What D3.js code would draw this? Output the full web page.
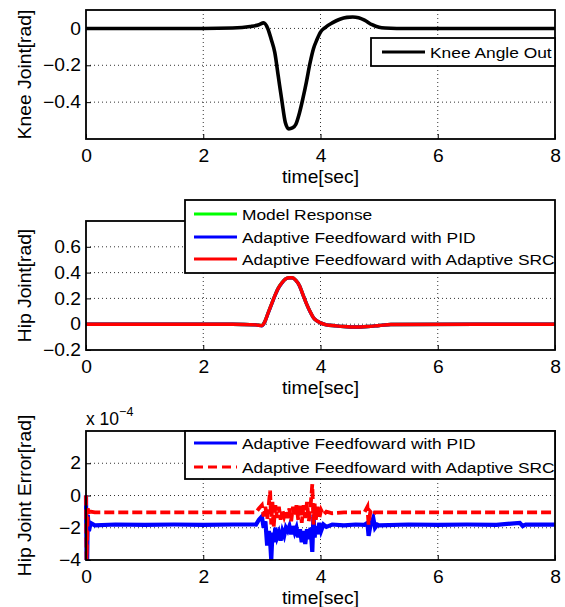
<!DOCTYPE html>
<html><head><meta charset="utf-8">
<script src="https://cdn.jsdelivr.net/npm/d3@7/dist/d3.min.js"></script>
<style>body{margin:0;background:#fff}svg{display:block}text{font-family:"Liberation Sans",Arial,Helvetica,sans-serif;fill:#000}</style>
</head><body><svg id="c" width="565" height="607"></svg>
<script>
// ---- data ----
const xTicks = [0, 2, 4, 6, 8];
const kneeTicks = [-0.4, -0.2, 0];
const hipTicks = [-0.2, 0, 0.2, 0.4, 0.6];
const errTicks = [-4, -2, 0, 2];

const kneeT = [0, 2.0, 2.5, 2.8, 2.95, 3.03, 3.1, 3.16, 3.22, 3.28, 3.34, 3.4, 3.46, 3.52, 3.58, 3.64, 3.7, 3.76, 3.82, 3.88, 3.94, 4.0, 4.08, 4.2, 4.33, 4.45, 4.55, 4.65, 4.75, 4.88, 5.0, 5.1, 5.3, 8.0];
const kneeV = [0, 0, 0.002, 0.01, 0.02, 0.03, 0.0, -0.06, -0.13, -0.26, -0.39, -0.51, -0.545, -0.54, -0.52, -0.46, -0.38, -0.29, -0.19, -0.11, -0.06, -0.02, 0.005, 0.03, 0.05, 0.06, 0.062, 0.058, 0.045, 0.02, 0.006, 0.002, 0, 0];

const hipT = [0, 2.5, 2.9, 3.0, 3.05, 3.1, 3.16, 3.22, 3.28, 3.34, 3.4, 3.46, 3.52, 3.58, 3.64, 3.7, 3.76, 3.82, 3.88, 3.94, 4.0, 4.1, 4.25, 4.4, 4.6, 4.8, 5.0, 5.2, 8.0];
const hipModel = [0, 0, -0.005, -0.01, 0.02, 0.08, 0.15, 0.22, 0.28, 0.32, 0.35, 0.36, 0.36, 0.34, 0.3, 0.23, 0.16, 0.1, 0.05, 0.025, 0.01, -0.005, -0.012, -0.018, -0.022, -0.018, -0.01, -0.002, 0];
const hipPID = [0, 0, -0.005, -0.012, 0.018, 0.078, 0.148, 0.218, 0.278, 0.318, 0.349, 0.359, 0.359, 0.339, 0.299, 0.229, 0.159, 0.099, 0.05, 0.025, 0.01, -0.005, -0.012, -0.018, -0.022, -0.018, -0.01, -0.002, 0];
const hipSRC = [0, 0, -0.005, -0.011, 0.019, 0.079, 0.149, 0.219, 0.279, 0.319, 0.35, 0.36, 0.36, 0.34, 0.3, 0.23, 0.16, 0.1, 0.05, 0.025, 0.01, -0.005, -0.012, -0.018, -0.022, -0.018, -0.01, -0.002, 0];

const errT = [0, 0.01, 0.02, 0.03, 0.05, 0.08, 0.15, 0.5, 1.0, 1.5, 2.0, 2.5, 2.9, 2.95, 3.0, 3.03, 3.06, 3.09, 3.12, 3.14, 3.16, 3.18, 3.2, 3.23, 3.26, 3.29, 3.32, 3.35, 3.38, 3.41, 3.44, 3.47, 3.5, 3.53, 3.56, 3.59, 3.62, 3.65, 3.68, 3.71, 3.74, 3.77, 3.8, 3.83, 3.86, 3.88, 3.9, 3.92, 3.95, 3.98, 4.01, 4.05, 4.1, 4.2, 4.4, 4.6, 4.75, 4.8, 4.82, 4.85, 4.9, 4.93, 4.97, 5.0, 5.5, 6.0, 6.5, 7.0, 7.4, 7.45, 7.5, 8.0];
const errPID = [0, -4, -3.9, -1.2, -2.2, -1.7, -1.85, -1.8, -1.82, -1.8, -1.82, -1.8, -1.8, -1.5, -1.3, -2.0, -1.6, -3.1, -2.2, -2.8, -4.0, -2.3, -2.9, -2.0, -2.6, -2.3, -2.8, -2.2, -2.5, -2.0, -2.2, -1.9, -2.4, -1.9, -2.3, -2.0, -2.6, -2.1, -2.9, -2.2, -3.0, -2.1, -2.7, -2.0, -3.5, -1.2, -2.6, -1.9, -2.4, -1.7, -2.2, -1.8, -1.95, -1.8, -1.85, -1.8, -1.82, -1.7, -2.5, -1.9, -1.4, -2.0, -1.8, -1.85, -1.8, -1.82, -1.8, -1.82, -1.7, -1.9, -1.8, -1.8];
const errSRC = [0, -4, -2.5, -0.8, -1.2, -1.0, -1.05, -1.05, -1.05, -1.05, -1.05, -1.05, -1.05, -0.8, -0.6, -1.3, -0.7, -1.5, -0.5, 0.3, -1.8, -0.4, -2.0, -0.6, -1.4, -0.7, -1.5, -0.9, -1.3, -0.9, -1.4, -0.8, -1.6, -0.7, -1.3, -0.6, -1.5, -0.5, -1.7, -0.6, -1.4, -0.4, -1.6, -0.7, 0.7, -1.8, -0.5, -1.5, -0.7, -1.4, -0.9, -1.2, -1.0, -1.1, -1.05, -1.05, -1.05, -0.7, -1.8, -1.0, -1.2, -1.05, -1.05, -1.05, -1.05, -1.05, -1.05, -1.05, -1.05, -1.05, -1.05, -1.05];

const kneeLegend = ["Knee Angle Out"];
const hipLegend = ["Model Response", "Adaptive Feedfoward with PID", "Adaptive Feedfoward with Adaptive SRC"];
const errLegend = ["Adaptive Feedfoward with PID", "Adaptive Feedfoward with Adaptive SRC"];

// ---- drawing ----
const svg = d3.select("#c");
const L = 86, R = 555;
const x = d3.scaleLinear().domain([0, 8]).range([L, R]);

function panel(top, bottom, ydom, yticks, ylabel, fmt) {
  const y = d3.scaleLinear().domain(ydom).range([bottom, top]);
  const g = svg.append("g");
  g.selectAll(".gx").data(xTicks.filter(d => d > 0 && d < 8)).enter().append("line")
    .attr("x1", d => x(d)).attr("x2", d => x(d)).attr("y1", top).attr("y2", bottom)
    .attr("stroke", "#333").attr("stroke-width", 1).attr("stroke-dasharray", "1,3");
  g.selectAll(".gy").data(yticks.filter(d => y(d) > top + 1 && y(d) < bottom - 1)).enter().append("line")
    .attr("y1", d => y(d)).attr("y2", d => y(d)).attr("x1", L).attr("x2", R)
    .attr("stroke", "#333").attr("stroke-width", 1).attr("stroke-dasharray", "1,3");
  const ax = g.append("g").attr("transform", `translate(0,${bottom})`)
    .call(d3.axisBottom(x).tickValues(xTicks).tickSize(-5).tickPadding(11).tickFormat(d3.format("d")));
  const ay = g.append("g").attr("transform", `translate(${L},0)`)
    .call(d3.axisLeft(y).tickValues(yticks).tickSize(-5).tickPadding(5).tickFormat(fmt));
  [ax, ay].forEach(a => {
    a.select(".domain").remove();
    a.selectAll("line").attr("stroke", "#000").attr("stroke-width", 1);
    a.selectAll("text").style("font-size", "17.5px").style("font-family", '"Liberation Sans",Arial,sans-serif').attr("data-s", 1.1);
  });
  ay.selectAll("text").text(d => d === 0 ? "0" : fmt(d).replace("-", "\u2212"));
  g.append("text").attr("x", (L + R) / 2).attr("y", bottom + 43.5).attr("text-anchor", "middle")
    .style("font-size", "17.5px").attr("data-s", 1.1).text("time[sec]");
  g.append("text").attr("transform", `translate(31,${(top + bottom) / 2}) rotate(-90)`)
    .attr("text-anchor", "middle").style("font-size", "17.5px").attr("data-s", 1.1).text(ylabel);
  return {g, y, top, bottom};
}

function frame(p) {
  p.g.append("rect").attr("x", L).attr("y", p.top).attr("width", R - L).attr("height", p.bottom - p.top)
    .attr("fill", "none").attr("stroke", "#000").attr("stroke-width", 1.8);
}

function legend(x0, y0, w, h, items, rowY, pad) {
  const g = svg.append("g");
  g.append("rect").attr("x", x0).attr("y", y0).attr("width", w).attr("height", h)
    .attr("fill", "#fff").attr("stroke", "#000").attr("stroke-width", 1.8);
  items.forEach((it, i) => {
    const yy = y0 + rowY[i];
    g.append("line").attr("x1", x0 + pad).attr("x2", x0 + pad + 43).attr("y1", yy).attr("y2", yy)
      .attr("stroke", it.color).attr("stroke-width", 3.2).attr("stroke-dasharray", it.dash || null);
    g.append("text").attr("x", x0 + pad + 48).attr("y", yy + 5.5).style("font-size", "15.5px").attr("data-s", 1.12).text(it.label);
  });
}

// Panel 1
const p1 = panel(10, 139, [-0.6, 0.1], kneeTicks, "Knee Joint[rad]", d3.format(".1f"));
p1.g.append("path").datum(kneeT.map((t, i) => [t, kneeV[i]]))
  .attr("fill", "none").attr("stroke", "#000").attr("stroke-width", 3.6)
  .attr("d", d3.line().x(d => x(d[0])).y(d => p1.y(d[1])).curve(d3.curveMonotoneX));
frame(p1);
legend(371, 38, 184, 28, [{label: kneeLegend[0], color: "#000"}], [14], 11);

// Panel 2
const p2 = panel(221, 350, [-0.2, 0.8], hipTicks, "Hip Joint[rad]", d3.format(".1f"));
const hipLine = d3.line().x(d => x(d[0])).y(d => p2.y(d[1])).curve(d3.curveMonotoneX);
[[hipModel, "#00ff00"], [hipPID, "#0000ff"], [hipSRC, "#ff0000"]].forEach(([v, c]) => {
  p2.g.append("path").datum(hipT.map((t, i) => [t, v[i]]))
    .attr("fill", "none").attr("stroke", c).attr("stroke-width", 3.4).attr("d", hipLine);
});
frame(p2);
legend(185, 200, 370, 73, hipLegend.map((l, i) => ({label: l, color: ["#00ff00", "#0000ff", "#ff0000"][i]})), [14, 37, 59], 9);

// Panel 3
const p3 = panel(431, 560, [-4, 4], errTicks, "Hip Joint Error[rad]", d3.format("d"));
const errLine = d3.line().x(d => x(d[0])).y(d => p3.y(d[1]));
p3.g.append("path").datum(errT.map((t, i) => [t, errPID[i]]))
  .attr("fill", "none").attr("stroke", "#0000ff").attr("stroke-width", 4.2).attr("d", errLine);
p3.g.append("path").datum(errT.map((t, i) => [t, errSRC[i]]))
  .attr("fill", "none").attr("stroke", "#ff0000").attr("stroke-width", 3.8)
  .attr("stroke-dasharray", "10,4").attr("d", errLine);
frame(p3);
const ex = svg.append("text").attr("x", 86).attr("y", 425).style("font-size", "17.5px");
ex.append("tspan").text("x 10");
ex.append("tspan").attr("dy", -9).style("font-size", "12.5px").text("\u22124");
legend(185, 431, 370, 48, errLegend.map((l, i) => ({label: l, color: ["#0000ff", "#ff0000"][i], dash: i ? "9,5" : null})), [12, 36], 9);

// horizontal stretch of text to match the reference's wide glyphs
svg.selectAll("text[data-s]").each(function () {
  const s = +this.getAttribute("data-s");
  const len = this.getComputedTextLength();
  this.setAttribute("textLength", len * s);
  this.setAttribute("lengthAdjust", "spacingAndGlyphs");
});
</script></body></html>
